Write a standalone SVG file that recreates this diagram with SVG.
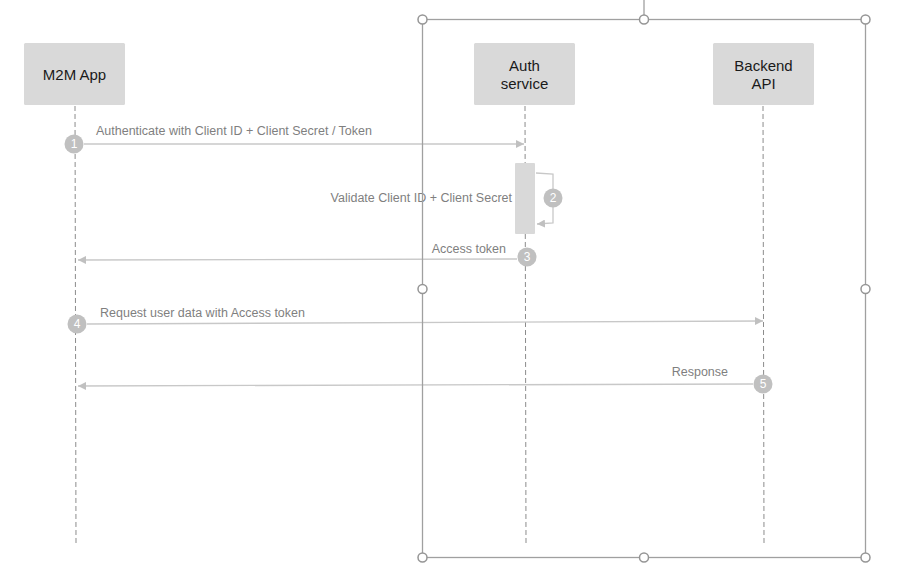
<svg xmlns="http://www.w3.org/2000/svg" width="901" height="588" viewBox="0 0 901 588">
<style>
.actor{fill:#d9d9d9;}
.atext{font-family:"Liberation Sans",Arial,sans-serif;font-size:15px;fill:#1a1a1a;text-anchor:middle;}
.life{stroke:#8c8c8c;stroke-width:1;stroke-dasharray:5 3;fill:none;}
.msg{stroke:#c8c8c8;stroke-width:1.3;fill:none;}
.lbl{font-family:"Liberation Sans",Arial,sans-serif;font-size:12.5px;fill:#7f7f7f;}
.num{fill:#c0c0c0;}
.ntext{font-family:"Liberation Sans",Arial,sans-serif;font-size:12px;fill:#ffffff;text-anchor:middle;}
.sel{stroke:#a0a0a0;stroke-width:1.3;fill:none;}
.handle{fill:#ffffff;stroke:#959595;stroke-width:1.5;}
</style>
<defs>
<marker id="arr" viewBox="0 0 10 10" refX="10" refY="5" markerWidth="8" markerHeight="8" markerUnits="userSpaceOnUse" orient="auto">
<path d="M0,0 L10,5 L0,10 z" fill="#c0c0c0"/>
</marker>
</defs>
<rect width="901" height="588" fill="#ffffff"/>

<g id="lifelines">
<line class="life" x1="75" y1="106" x2="76" y2="543"/>
<line class="life" x1="525" y1="106" x2="526" y2="543"/>
<line class="life" x1="763" y1="106" x2="764" y2="543"/>
</g>

<g id="node-m2m">
<rect class="actor" x="24" y="43" width="101" height="62" rx="1.5"/>
<text class="atext" x="74.5" y="80">M2M App</text>
</g>
<g id="node-auth">
<rect class="actor" x="474" y="43" width="101" height="62" rx="1.5"/>
<text class="atext" x="524.5" y="71">Auth</text>
<text class="atext" x="524.5" y="89">service</text>
</g>
<g id="node-backend">
<rect class="actor" x="713" y="43" width="101" height="62" rx="1.5"/>
<text class="atext" x="763.5" y="71">Backend</text>
<text class="atext" x="763.5" y="89">API</text>
</g>

<g id="activation">
<rect class="actor" x="515" y="163" width="20" height="71" rx="1"/>
</g>

<g id="connectors">
<line class="msg" x1="84" y1="144" x2="524" y2="144" marker-end="url(#arr)"/>
<polyline class="msg" points="536,173 553,174 553,223 537,224" marker-end="url(#arr)"/>
<line class="msg" x1="517" y1="259" x2="78" y2="260" marker-end="url(#arr)"/>
<line class="msg" x1="87" y1="324" x2="763" y2="321" marker-end="url(#arr)"/>
<line class="msg" x1="753" y1="384" x2="78" y2="386" marker-end="url(#arr)"/>
</g>

<g id="labels">
<text class="lbl" x="96" y="135">Authenticate with Client ID + Client Secret / Token</text>
<text class="lbl" x="512" y="202" text-anchor="end">Validate Client ID + Client Secret</text>
<text class="lbl" x="506" y="253" text-anchor="end">Access token</text>
<text class="lbl" x="100" y="317">Request user data with Access token</text>
<text class="lbl" x="728" y="376" text-anchor="end">Response</text>
</g>

<g id="step-1"><circle class="num" cx="74" cy="144" r="9.5"/><text class="ntext" x="74" y="148">1</text></g>
<g id="step-2"><circle class="num" cx="553" cy="198" r="9.5"/><text class="ntext" x="553" y="202">2</text></g>
<g id="step-3"><circle class="num" cx="527" cy="257" r="9.5"/><text class="ntext" x="527" y="261">3</text></g>
<g id="step-4"><circle class="num" cx="77" cy="324" r="9.5"/><text class="ntext" x="77" y="328">4</text></g>
<g id="step-5"><circle class="num" cx="763" cy="384" r="9.5"/><text class="ntext" x="763" y="388">5</text></g>

<g id="selection">
<line class="sel" x1="644" y1="0" x2="644" y2="15"/>
<rect class="sel" x="422.5" y="19.5" width="443" height="538"/>
<circle class="handle" cx="422.5" cy="19.5" r="4.5"/>
<circle class="handle" cx="644" cy="19.5" r="4.5"/>
<circle class="handle" cx="865.5" cy="19.5" r="4.5"/>
<circle class="handle" cx="422.5" cy="289" r="4.5"/>
<circle class="handle" cx="865.5" cy="289" r="4.5"/>
<circle class="handle" cx="422.5" cy="557.5" r="4.5"/>
<circle class="handle" cx="644" cy="557.5" r="4.5"/>
<circle class="handle" cx="865.5" cy="557.5" r="4.5"/>
</g>
</svg>
